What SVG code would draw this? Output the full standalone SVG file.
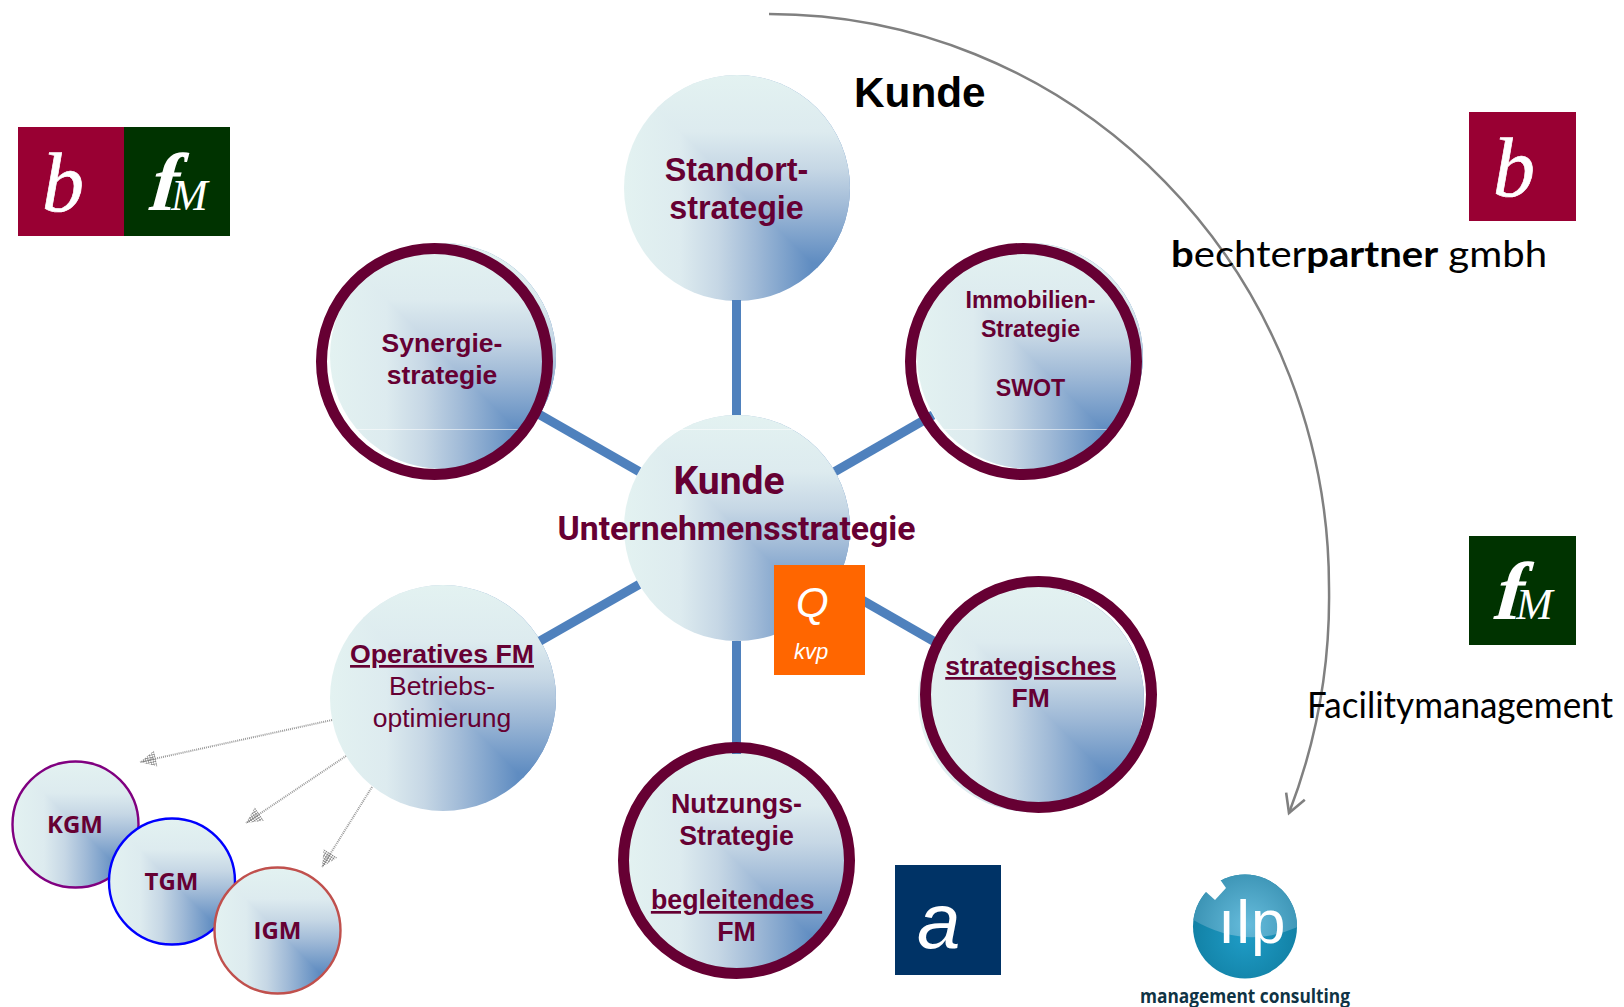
<svg xmlns="http://www.w3.org/2000/svg" width="1624" height="1007" viewBox="0 0 1624 1007">
<style>
text{font-family:"Liberation Sans",Arial,sans-serif}
.t{fill:#660033;font-weight:700;text-anchor:middle}
.n{font-weight:400}
.u{text-decoration:underline}
.ring{fill:none;stroke:#660033;stroke-width:11}
.spoke{stroke:#4F81BD;stroke-width:9;fill:none}
.seam{stroke:#fff;stroke-width:1;opacity:.55}
.dash{stroke:#999;stroke-width:2;stroke-dasharray:1 1;fill:none;marker-end:url(#hatchArrow)}
.sm{font-family:"Open Sans",sans-serif;font-size:24px}
.mark{font-family:"Liberation Serif",serif;font-style:italic;fill:#fff}
.bee{stroke:#fff;stroke-width:.7}
.eff{font-family:"Liberation Serif",serif;fill:#fff;font-weight:700}
.lab{font-family:Lato,"Open Sans",sans-serif;fill:#000}
.rb{font-family:Roboto,sans-serif}
</style>
<defs>
<linearGradient id="gh" gradientUnits="userSpaceOnUse" x1="-113" y1="0" x2="75" y2="0">
<stop offset="0" stop-color="#E3F2F1"/><stop offset=".3" stop-color="#DDEBEF"/><stop offset=".5" stop-color="#C6D7E5"/><stop offset=".7" stop-color="#A0BAD7"/><stop offset="1" stop-color="#5F8CC1"/>
</linearGradient>
<linearGradient id="gv" gradientUnits="userSpaceOnUse" x1="0" y1="-113" x2="0" y2="75">
<stop offset="0" stop-color="#E3F2F1"/><stop offset=".3" stop-color="#DDEBEF"/><stop offset=".5" stop-color="#C6D7E5"/><stop offset=".7" stop-color="#A0BAD7"/><stop offset="1" stop-color="#5F8CC1"/>
</linearGradient>
<clipPath id="bc"><circle r="113"/></clipPath>
<g id="ball" clip-path="url(#bc)">
<rect x="-114" y="-114" width="228" height="228" fill="url(#gh)"/>
<polygon points="-114,-114 114,-114 114,114" fill="url(#gv)"/>
</g>
<pattern id="hatch" width="2.4" height="2.4" patternUnits="userSpaceOnUse">
<path d="M0 0H2.4M0 0V2.4" stroke="#707070" stroke-width="1" fill="none"/>
</pattern>
<marker id="hatchArrow" markerUnits="userSpaceOnUse" markerWidth="20" markerHeight="18" refX="16" refY="8" orient="auto" overflow="visible">
<polygon points="0,0 16,8 0,16" fill="url(#hatch)"/>
</marker>
<marker id="open" markerUnits="userSpaceOnUse" markerWidth="24" markerHeight="26" refX="20" refY="12" orient="auto">
<path d="M2 2L20 12L2 22" fill="none" stroke="#808080" stroke-width="2.6"/>
</marker>
<radialGradient id="ilpLow" cx=".5" cy=".6" r=".55"><stop offset="0" stop-color="#1F9CC6"/><stop offset="1" stop-color="#117FA3"/></radialGradient>
<radialGradient id="ilpTop" gradientUnits="userSpaceOnUse" cx="1248" cy="925" r="56"><stop offset="0" stop-color="#66BCDC"/><stop offset="1" stop-color="#3B93B4"/></radialGradient>
<clipPath id="ilpC"><circle cx="1245" cy="926.5" r="52"/></clipPath>
</defs>

<rect width="1624" height="1007" fill="#fff"/>

<g id="big-arc">
<path d="M769 14A560 573 0 0 1 1329 587A600 600 0 0 1 1289 813" fill="none" stroke="#808080" stroke-width="2.500" marker-end="url(#open)"/>
</g>

<g id="node-standort-disc"><use href="#ball" x="737" y="188"/></g>
<g id="node-kunde-disc"><use href="#ball" x="737" y="528"/><path class="seam" d="M680 429.500H793"/></g>
<g id="node-operativ-disc"><use href="#ball" x="443" y="698"/></g>
<g id="node-synergie-disc"><use href="#ball" x="443" y="356"/><path class="seam" d="M353 429.500H518"/></g>
<g id="node-immobilien-disc"><use href="#ball" x="1030" y="356"/><path class="seam" d="M943 429.500H1108"/></g>
<g id="node-strategisch-disc"><use href="#ball" x="1031" y="699"/></g>
<g id="node-nutzung-disc"><use href="#ball" x="737" y="862"/></g>

<g id="connectors">
<path class="spoke" d="M736.500 300V415"/>
<path class="spoke" d="M736.500 641V754"/>
<path class="spoke" d="M639 471.500L535 412"/>
<path class="spoke" d="M835 471.500L933 415"/>
<path class="spoke" d="M639 584.500L540 641"/>
<path class="spoke" d="M835 584.500L935 642"/>
<path class="dash" d="M332 720L140 762"/>
<path class="dash" d="M346 756L246 823"/>
<path class="dash" d="M372 787L322 867"/>
</g>

<g id="node-standort">
<text class="t" x="736.500" y="181" font-size="32.300">Standort-</text>
<text class="t" x="736.500" y="219" font-size="32.300">strategie</text>
</g>
<g id="node-kunde">
<text class="t rb" x="729" y="494" font-size="39">Kunde</text>
<text class="t rb" x="736.500" y="540" font-size="33.800">Unternehmensstrategie</text>
</g>
<g id="node-synergie">
<circle class="ring" cx="434.500" cy="361.500" r="113"/>
<text class="t" x="442" y="352" font-size="26.500">Synergie-</text>
<text class="t" x="442" y="384" font-size="26.500">strategie</text>
</g>
<g id="node-immobilien">
<circle class="ring" cx="1023.500" cy="361.500" r="113"/>
<text class="t" x="1030.500" y="308" font-size="23.200">Immobilien-</text>
<text class="t" x="1030.500" y="337" font-size="23.200">Strategie</text>
<text class="t" x="1030.500" y="396" font-size="23.200">SWOT</text>
</g>
<g id="node-strategisch">
<circle class="ring" cx="1038.500" cy="694.500" r="113"/>
<text class="t u" x="1030.700" y="675" font-size="26.500">strategisches</text>
<text class="t" x="1030.700" y="707" font-size="26.500">FM</text>
</g>
<g id="node-nutzung">
<circle class="ring" cx="736.500" cy="860.500" r="113"/>
<text class="t" x="736.500" y="813" font-size="26.800">Nutzungs-</text>
<text class="t" x="736.500" y="845" font-size="26.800">Strategie</text>
<text class="t u" x="736.500" y="909" font-size="26.800" xml:space="preserve">begleitendes </text>
<text class="t" x="736.500" y="941" font-size="26.800">FM</text>
</g>
<g id="node-operativ">
<text class="t u" x="442" y="663" font-size="26.700">Operatives FM</text>
<text class="t n" x="442" y="695" font-size="26.500">Betriebs-</text>
<text class="t n" x="442" y="727" font-size="26.500">optimierung</text>
</g>

<g id="node-kgm">
<use href="#ball" transform="translate(75.500 824.500) scale(.5575)"/>
<circle cx="75.500" cy="824.500" r="63" fill="none" stroke="#800080" stroke-width="2.400"/>
<text class="t sm" x="75" y="833">KGM</text>
</g>
<g id="node-tgm">
<use href="#ball" transform="translate(172 881.500) scale(.5575)"/>
<circle cx="172" cy="881.500" r="63" fill="none" stroke="#0000FF" stroke-width="2.400"/>
<text class="t sm" x="171.500" y="890">TGM</text>
</g>
<g id="node-igm">
<use href="#ball" transform="translate(277.500 930.500) scale(.5575)"/>
<circle cx="277.500" cy="930.500" r="63" fill="none" stroke="#C0504D" stroke-width="2.400"/>
<text class="t sm" x="277.500" y="939">IGM</text>
</g>

<g id="title-kunde"><text x="854" y="107" font-size="42.300" font-weight="700" fill="#000">Kunde</text></g>

<g id="badge-left">
<rect x="18" y="127" width="106" height="109" fill="#990033"/>
<rect x="124" y="127" width="106" height="109" fill="#003300"/>
<text class="mark bee" x="42" y="211" font-size="84">b</text>
<text class="eff" transform="translate(146 210) skewX(-15)" font-size="82">f</text>
<text class="mark" x="171" y="210" font-size="44">M</text>
</g>
<g id="badge-b">
<rect x="1469" y="112" width="107" height="109" fill="#990033"/>
<text class="mark bee" x="1493" y="196" font-size="84">b</text>
<text class="lab" x="1171" y="267" font-size="36" textLength="376" lengthAdjust="spacingAndGlyphs"><tspan font-weight="700">b</tspan>echter<tspan font-weight="700">partner</tspan> gmbh</text>
</g>
<g id="badge-fm">
<rect x="1469" y="536" width="107" height="109" fill="#003300"/>
<text class="eff" transform="translate(1491 619) skewX(-15)" font-size="82">f</text>
<text class="mark" x="1516" y="619" font-size="44">M</text>
<text class="lab" x="1307" y="718" font-size="36" textLength="306" lengthAdjust="spacingAndGlyphs">Facilitymanagement</text>
</g>
<g id="badge-q">
<rect x="774" y="565" width="91" height="110" fill="#FF6600"/>
<text x="796" y="617" font-size="42" font-style="italic" fill="#fff">Q</text>
<text x="794" y="659" font-size="22" font-style="italic" fill="#fff">kvp</text>
</g>
<g id="badge-a">
<rect x="895" y="865" width="106" height="110" fill="#003366"/>
<text x="917" y="948" font-size="78" font-style="italic" fill="#fff">a</text>
</g>
<g id="logo-ilp">
<circle cx="1245" cy="926.500" r="52" fill="url(#ilpLow)"/>
<path d="M1190 870H1300V926Q1245 952 1190 918Z" fill="url(#ilpTop)" clip-path="url(#ilpC)"/>
<path d="M1205 891L1219 878L1226 888L1215 900Z" fill="#fff"/>
<text x="1218" y="943" font-size="62" font-family="Open Sans" font-weight="500" letter-spacing="1" fill="#fff">ılp</text>
<text x="1140" y="1003" font-size="20" font-weight="700" fill="#0F3344" style="font-family:'Open Sans',sans-serif" textLength="210" lengthAdjust="spacingAndGlyphs">management consulting</text>
</g>
</svg>
